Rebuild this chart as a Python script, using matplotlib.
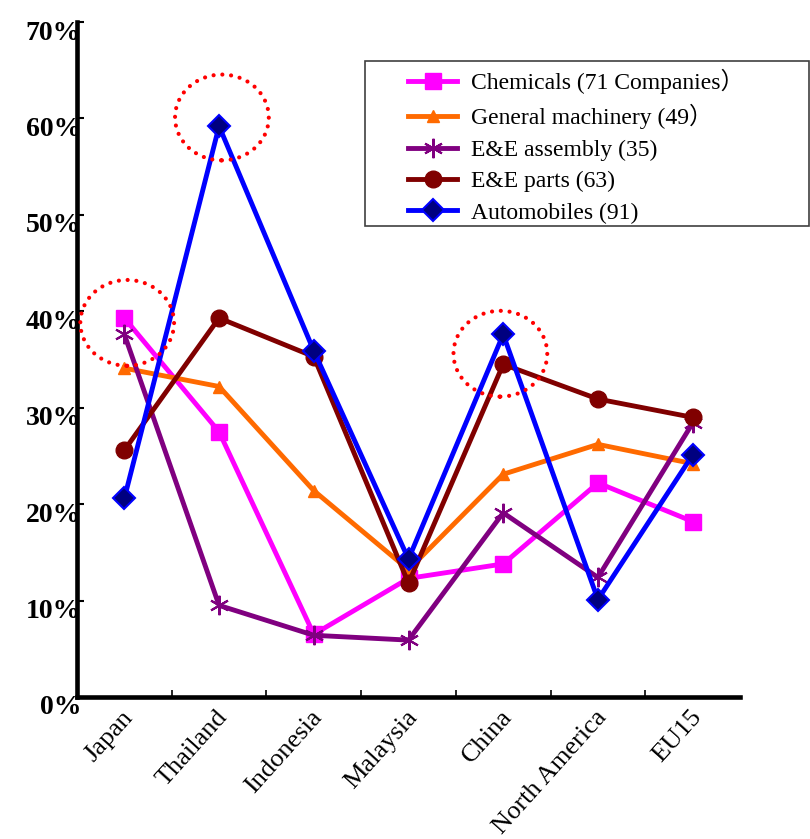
import matplotlib
matplotlib.use("Agg")
import matplotlib.pyplot as plt
from matplotlib.patches import Ellipse, Rectangle
from matplotlib.transforms import ScaledTranslation

regions = ["Japan", "Thailand", "Indonesia", "Malaysia", "China", "North America", "EU15"]

chemicals = [39.3, 27.5, 6.5, 12.3, 13.8, 22.2, 18.2]
machinery = [34.1, 32.2, 21.4, 13.2, 23.1, 26.2, 24.2]
ee_assembly = [37.6, 9.5, 6.4, 5.9, 19.1, 12.4, 28.4]
ee_parts = [25.6, 39.3, 35.3, 11.8, 34.5, 30.9, 29.0]
automobiles = [20.6, 59.2, 35.9, 14.3, 37.6, 10.1, 25.1]

labels = ["Chemicals (71 Companies\uff09", "General machinery (49\uff09",
          "E&E assembly (35)", "E&E parts (63)", "Automobiles (91)"]

# highlighted points (region index, value)
highlights = [(0.03, 38.8), (1.03, 60.1), (3.97, 35.6)]

serif = ["Liberation Serif", "Noto Sans CJK JP", "DejaVu Sans"]


def main():
    plt.rcParams["font.family"] = serif
    fig = plt.figure(figsize=(8.1, 8.39), dpi=100)
    ax = fig.add_axes([77 / 810, 142 / 839, 663 / 810, 675 / 839])

    x = range(len(regions))
    lw = 3.5
    ax.plot(x, chemicals, color="#FF00FF", lw=lw, marker="s", ms=12,
            mfc="#FF00FF", mec="#FF00FF", label=labels[0])
    ax.plot(x, machinery, color="#FF6A00", lw=lw, marker="^", ms=8,
            mfc="#FF6A00", mec="#FF6A00", label=labels[1])
    ax.plot(x, ee_assembly, color="#800080", lw=lw, marker=(6, 2, 0), ms=14,
            mew=1.5, mec="#800080", label=labels[2])
    ax.plot(x, ee_parts, color="#800000", lw=lw, marker="o", ms=12,
            mfc="#800000", mec="#800000", label=labels[3])
    ax.plot(x, automobiles, color="#0000FF", lw=lw, marker="D", ms=11,
            mfc="#000080", mec="#0000FF", mew=1.5, label=labels[4])

    for cx, cy in highlights:
        e = Ellipse((cx, cy), 0.99, 8.9, fill=False, edgecolor="#FF0000",
                    lw=3, linestyle=(0, (0.01, 2.1)), capstyle="round",
                    clip_on=False, zorder=5)
        ax.add_patch(e)

    ax.set_xlim(-0.5, 6.5)
    ax.set_ylim(0, 70)
    for s in ["top", "right"]:
        ax.spines[s].set_visible(False)
    for s in ["left", "bottom"]:
        ax.spines[s].set_linewidth(3.3)

    ax.set_yticks(range(0, 71, 10))
    ax.set_yticklabels(["%d%%" % v for v in range(0, 71, 10)],
                       fontsize=20, fontweight="bold")
    ax.tick_params(axis="y", direction="in", length=5, width=1.5, pad=-3)
    for lab in ax.get_yticklabels():
        lab.set_transform(lab.get_transform() +
                          ScaledTranslation(0, -0.08, fig.dpi_scale_trans))

    ax.set_xticks([i + 0.5 for i in range(6)], minor=True)
    ax.set_xticks(list(x))
    ax.set_xticklabels(regions, fontsize=19, rotation=48, ha="right",
                       va="center", rotation_mode="anchor")
    ax.tick_params(axis="x", which="major", length=0, pad=12)
    ax.tick_params(axis="x", which="minor", direction="in", length=5, width=1.2)
    for lab in ax.get_xticklabels():
        lab.set_transform(lab.get_transform() +
                          ScaledTranslation(0.05, 0, fig.dpi_scale_trans))

    # legend box drawn separately so the entries can sit inside it freely
    fig.add_artist(Rectangle((365 / 810, 613 / 839), 444 / 810, 165 / 839,
                             transform=fig.transFigure, fill=False,
                             ec="#404040", lw=1.2))
    fig.legend(loc="upper left", bbox_to_anchor=(408 / 810, 770 / 839),
               fontsize=17, frameon=False, handlelength=2.08,
               labelspacing=0.42, borderpad=0, handletextpad=0.6,
               borderaxespad=0)

    fig.savefig("out.png", dpi=100)


if __name__ == '__main__': main()
